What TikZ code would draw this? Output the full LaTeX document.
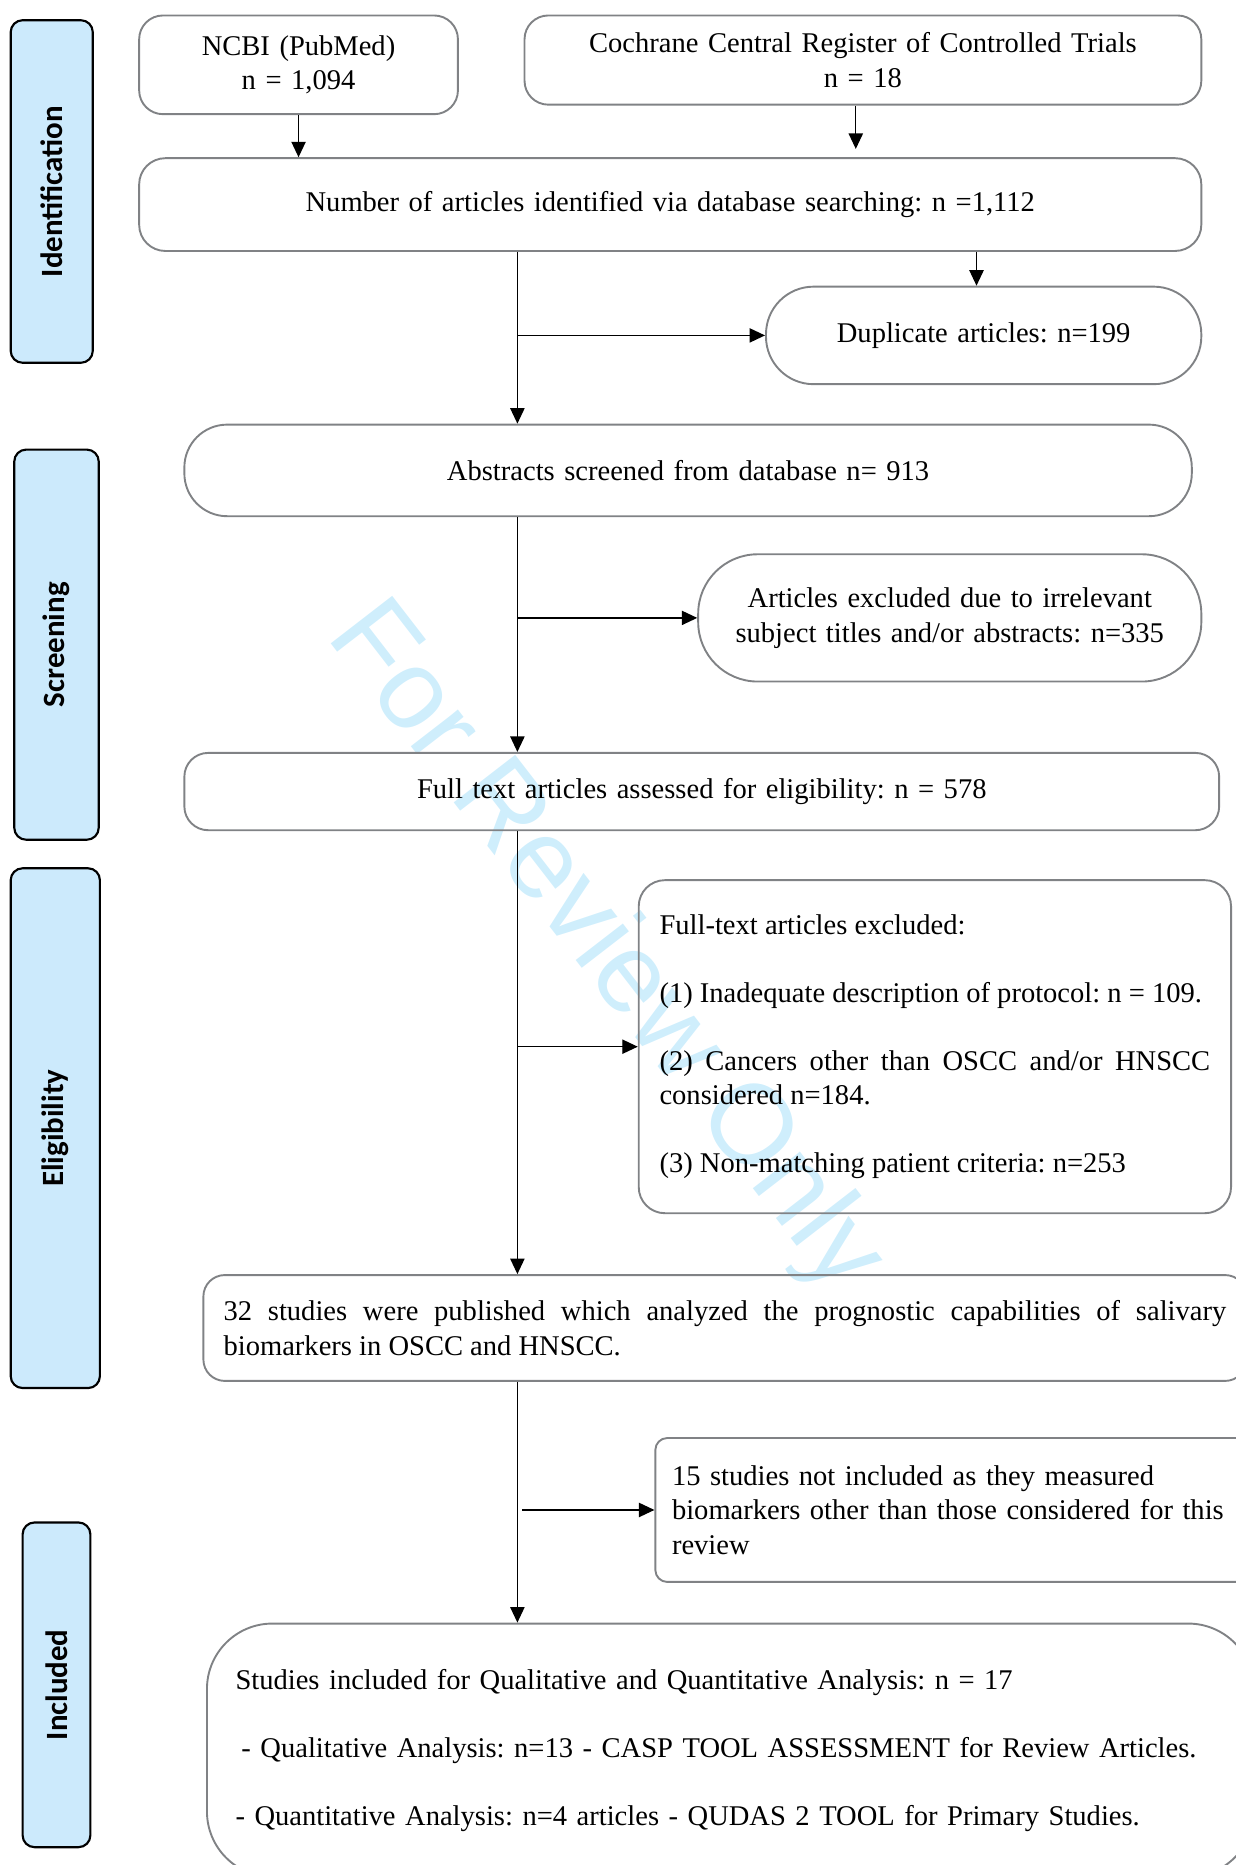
\documentclass[tikz,border=0pt]{standalone}
\usepackage{fontspec}
\setmainfont{Liberation Serif}
\newfontfamily\sidefont{Carlito}
\newfontfamily\markfont{Liberation Sans}
\usetikzlibrary{arrows.meta}
\definecolor{sideblue}{RGB}{204,234,252}
\definecolor{boxgray}{RGB}{128,130,133}
\definecolor{markcyan}{RGB}{207,238,252}
\setlength{\parindent}{0pt}
\hyphenpenalty=10000
\tolerance=9999
\frenchspacing

\begin{document}
\begin{tikzpicture}[x=1pt, y=-1pt,
    gbox/.style={draw=boxgray, line width=1.6pt, inner sep=0pt,
        font=\fontsize{24}{29}\selectfont},
    phase/.style={draw=black, line width=1.8pt, fill=sideblue, rounded corners=10pt,
        rotate=90, inner sep=0pt, font=\sidefont\bfseries\fontsize{26}{30}\selectfont},
    arr/.style={-{Triangle[length=13pt,width=12pt]}, line width=1.1pt}]
    \useasboundingbox (0,0) rectangle (1039,1568);
    %\draw[help lines] (0,0) grid[step=100] (1039,1568);
    \node[font=\markfont\fontsize{95}{95}\selectfont, text=markcyan, rotate=-52.3] (mark) at (508,798) {For Review Only};

    \node[phase, minimum width=288pt, minimum height=69pt] (idlab) at (43.5,161) {Identification};
    \node[phase, minimum width=328pt, minimum height=71pt] (scrlab) at (47.5,542) {Screening};
    \node[phase, minimum width=437pt, minimum height=75pt] (elilab) at (46.5,948.5) {Eligibility};
    \node[phase, minimum width=273pt, minimum height=57pt] (inclab) at (47.5,1416.5) {Included};

    \node[gbox, rounded corners=20pt, minimum width=268pt, minimum height=83pt, text width=250pt, align=center] (ncbi) at (251,54.5) {NCBI (PubMed)\\ n = 1,094};
    \node[gbox, rounded corners=20pt, minimum width=569pt, minimum height=75pt, text width=540pt, align=center] (coch) at (725.5,50.5) {Cochrane Central Register of Controlled Trials\\ n = 18};
    \node[gbox, rounded corners=22pt, minimum width=893pt, minimum height=78pt, text width=860pt, align=center] (found) at (563.5,172) {Number of articles identified via database searching: n =1,112};
    \node[gbox, rounded corners=40pt, minimum width=366pt, minimum height=82pt, text width=340pt, align=center] (dupl) at (827,282) {Duplicate articles: n=199};
    \node[gbox, rounded corners=36pt, minimum width=847pt, minimum height=77pt, text width=820pt, align=center] (abstr) at (578.5,395.5) {Abstracts screened from database n= 913};
    \node[gbox, rounded corners=50pt, minimum width=423pt, minimum height=107pt, text width=400pt, align=center] (excl) at (798.5,519.5) {Articles excluded due to irrelevant\\ subject titles and/or abstracts: n=335};
    \node[gbox, rounded corners=20pt, minimum width=870pt, minimum height=65pt, text width=840pt, align=center] (full) at (590,665.5) {Full text articles assessed for eligibility: n = 578};
    \node[gbox, rounded corners=22pt, minimum width=498pt, minimum height=280pt, text width=463pt, inner xsep=17.5pt, align=justify] (ftex) at (786,880) {Full-text articles excluded:\\[28pt]
        (1) Inadequate description of protocol: n = 109.\\[28pt]
        (2) Cancers other than OSCC and/or HNSCC\linebreak considered n=184.\\[28pt]
        (3) Non-matching patient criteria: n=253};
    \node[gbox, rounded corners=18pt, minimum width=877pt, minimum height=89pt, text width=843pt, inner xsep=17pt, align=justify] (pub) at (609.5,1116.5) {32 studies were published which analyzed the prognostic capabilities of salivary\linebreak biomarkers in OSCC and HNSCC.};
    \node[gbox, rounded corners=10pt, minimum width=520pt, minimum height=121pt, text width=492pt, inner xsep=14pt, align=left] (notinc) at (811,1269.5) {15 studies not included as they measured biomarkers other than those considered for this review};
    \node[gbox, rounded corners=55pt, minimum width=880pt, minimum height=213pt, text width=832pt, inner xsep=24pt, align=left] (incl) at (614,1471.5) {Studies included for Qualitative and Quantitative Analysis: n = 17\\[28pt]
        \hspace*{5pt}- Qualitative Analysis: n=13 - CASP TOOL ASSESSMENT for Review Articles.\\[28pt]
        - Quantitative Analysis: n=4 articles - QUDAS 2 TOOL for Primary Studies.};

    \coordinate (trunk) at (435,0);
    \draw[arr] (ncbi.south) -- (ncbi.south |- found.north);
    \draw[arr, shorten >=7pt] ([xshift=-6pt]coch.south) -- ([xshift=-6pt]coch.south |- found.north);
    \draw[arr] ([xshift=-6pt]dupl.north |- found.south) -- ([xshift=-6pt]dupl.north);
    \draw[arr] (trunk |- found.south) -- (trunk |- abstr.north);
    \draw[arr] (trunk |- dupl.west) -- (dupl.west);
    \draw[arr] (trunk |- abstr.south) -- (trunk |- full.north);
    \draw[arr] (trunk |- excl.west) -- (excl.west);
    \draw[arr] (trunk |- full.south) -- (trunk |- pub.north);
    \draw[arr] (trunk |- ftex.west) -- (ftex.west);
    \draw[arr] (trunk |- pub.south) -- (trunk |- incl.north);
    \draw[arr] ([xshift=4pt]trunk |- notinc.west) -- (notinc.west);
\end{tikzpicture}
\end{document}
